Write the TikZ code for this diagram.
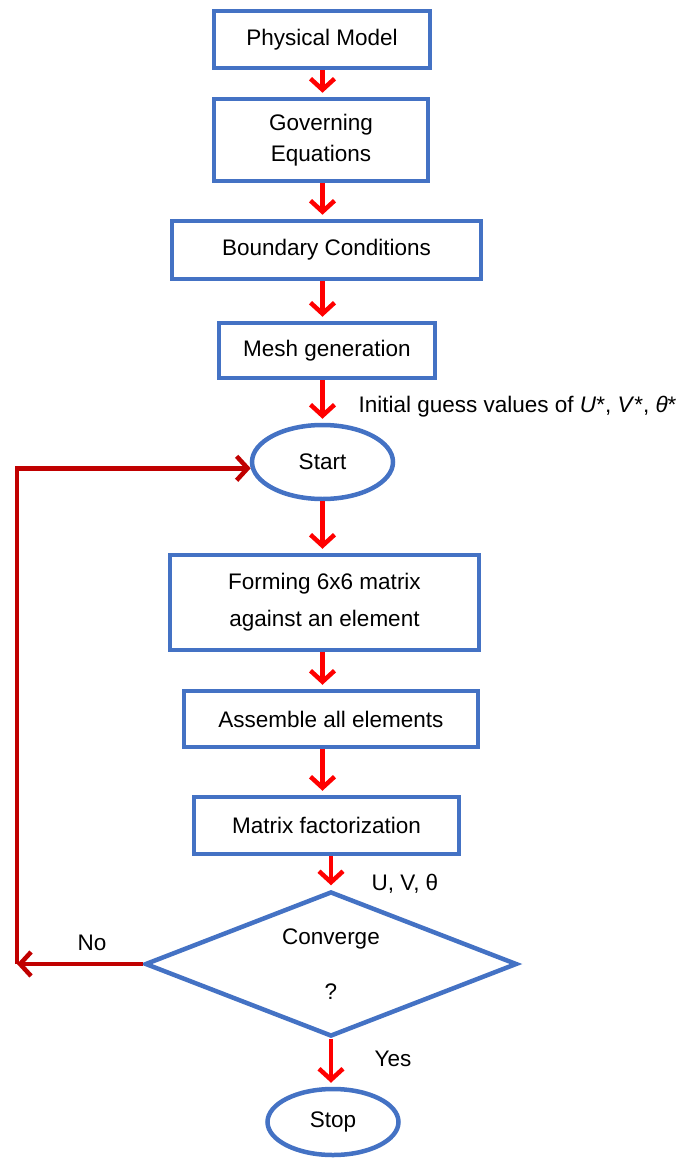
\documentclass[tikz,border=0pt]{standalone}
\usepackage{fontspec}
\setmainfont{Liberation Sans}
\usetikzlibrary{arrows.meta, shapes.geometric}
\definecolor{fcBlue}{RGB}{68,114,196}
\definecolor{fcRed}{RGB}{255,0,0}
\definecolor{fcDarkRed}{RGB}{192,0,0}

\begin{document}
\begin{tikzpicture}[
    x=1pt, y=-1pt,
    font=\fontsize{22.5}{31}\selectfont,
    proc/.style={draw=fcBlue, line width=4.5pt, fill=white, align=center,
                 inner sep=0pt},
    term/.style={ellipse, draw=fcBlue, line width=4.5pt, inner sep=0pt},
    decide/.style={diamond, draw=fcBlue, line width=4.5pt, aspect=2.52,
                   inner sep=0pt, align=center},
    flow/.style={draw=fcRed, line width=4.5pt, shorten >=4pt,
                 -{Straight Barb[length=11pt,width=24pt]}},
    back/.style={draw=fcDarkRed, line width=4.5pt,
                 -{Straight Barb[length=11pt,width=24pt]}}
]
\useasboundingbox (0,0) rectangle (678,1158);

% Main column
\node[proc, minimum width=216pt, minimum height=57pt] (phys) at (322,39.5) {Physical Model};
\node[proc, minimum width=214pt, minimum height=82pt] (gov) at (321,140) {Governing\\Equations};
\node[proc, minimum width=309pt, minimum height=58pt] (bc) at (326.5,250) {Boundary Conditions};
\node[proc, minimum width=216pt, minimum height=55pt] (mesh) at (327,350.5) {Mesh generation};
\node[term, minimum width=141pt, minimum height=74pt] (start) at (322.5,462) {Start};
\node[proc, minimum width=309pt, minimum height=95pt] (form) at (324.5,602.5) {Forming 6x6 matrix\\[6pt]against an element};
\node[proc, minimum width=294pt, minimum height=56pt] (asm) at (331,719) {Assemble all elements};
\node[proc, minimum width=265pt, minimum height=57pt] (fact) at (326.5,825.5) {Matrix factorization};
\node[decide, minimum width=372pt, minimum height=145pt] (conv) at (331,964) {Converge\\[24pt]?};
\node[term, minimum width=131pt, minimum height=66pt] (stop) at (333,1122) {Stop};

% Side labels
\node[anchor=west] (guess) at (355,407) {Initial guess values of \textit{U}*, \textit{V}*, \textit{θ}*};
\node[anchor=west] (uvt) at (368,884) {U, V, θ};
\node (no) at (92,943) {No};
\node (yes) at (393,1059) {Yes};

% Connectors
\coordinate (axis) at (322.5,0);
\foreach \a/\b in {phys/gov, gov/bc, bc/mesh, mesh/start, start/form,
                   form/asm, asm/fact} {
   \draw[flow] (\a.south -| axis) -- (\b.north -| axis);
}
\draw[flow] (fact.south -| conv.north) -- (conv.north);
\draw[flow] (conv.south) -- (conv.south |- stop.north);
\coordinate (corner) at (17,964);
\draw[back] (conv.west) -- (corner);
\draw[back] (corner) |- (start.185);
\end{tikzpicture}
\end{document}
